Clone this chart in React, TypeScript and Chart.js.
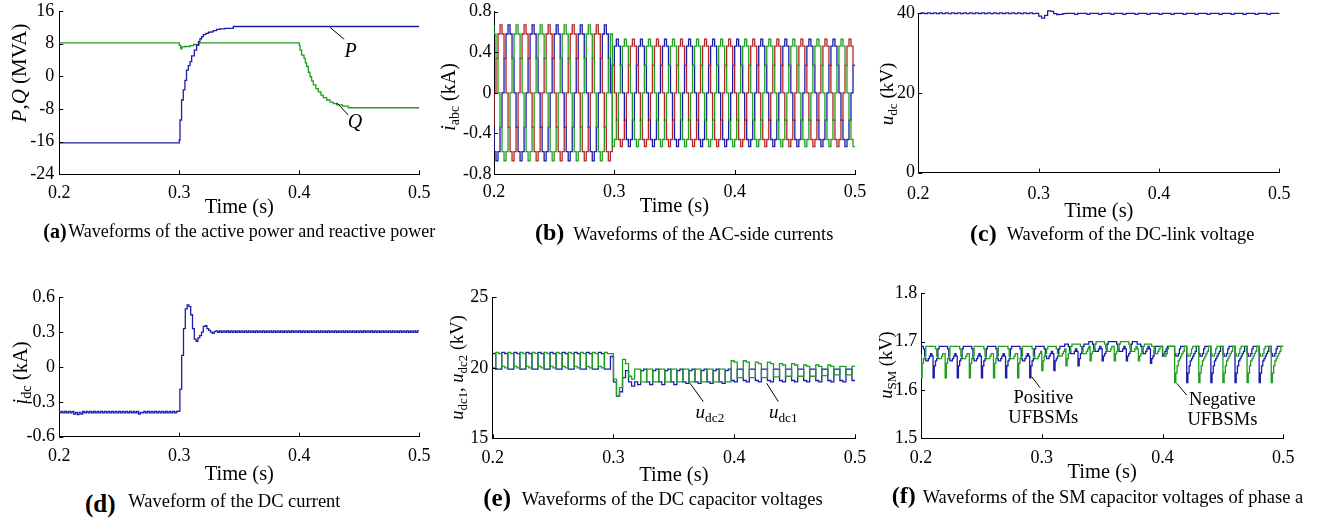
import React, { useEffect, useRef } from 'react';
import { Chart, registerables } from 'chart.js';

Chart.register(...registerables);

const SERIF = '"Liberation Serif", "Times New Roman", Times, serif';
const BLUE = '#1c1caa';
const GREEN = '#1f9f1f';
const RED = '#b42424';

// ---------- shared time axis ----------
const timeTicks = [0.2, 0.3, 0.4, 0.5];
const timeTickLabels = ['0.2', '0.3', '0.4', '0.5'];

// ---------- (a) active / reactive power ----------
const powerYTicks = [-24, -16, -8, 0, 8, 16];
const powerYLabels = ['-24', '-16', '-8', '0', '8', '16'];
const pTime = [0.2, 0.3, 0.3006, 0.3019, 0.3033, 0.3047, 0.306, 0.3075, 0.309, 0.3103, 0.3125, 0.3144, 0.316, 0.3172, 0.3186, 0.32, 0.3221, 0.3242, 0.3262, 0.3283, 0.331, 0.3339, 0.338, 0.345, 0.3533, 0.5];
const pValues = [-16.3, -16.3, -15.6, -10.7, -5.8, -3.3, -1.0, 1.5, 2.6, 3.6, 5.0, 6.4, 7.6, 8.5, 9.2, 9.7, 10.2, 10.5, 10.8, 10.9, 11.2, 11.5, 11.6, 11.75, 12.2, 12.2];
const qTime = [0.2, 0.3, 0.3012, 0.3022, 0.3045, 0.309, 0.312, 0.3165, 0.32, 0.4, 0.4006, 0.402, 0.4039, 0.405, 0.4061, 0.4075, 0.4089, 0.4103, 0.4117, 0.4138, 0.4158, 0.418, 0.42, 0.4228, 0.4256, 0.4283, 0.4311, 0.436, 0.4408, 0.443, 0.5];
const qValues = [8.2, 8.2, 7.6, 6.7, 7.2, 7.3, 7.5, 7.8, 8.2, 8.2, 7.6, 6.4, 5.2, 4.4, 3.3, 2.4, 1.0, -0.1, -1.1, -2.1, -3.0, -3.8, -4.6, -5.2, -5.8, -6.3, -6.7, -7.0, -7.3, -7.7, -7.7];

// ---------- (b) AC-side currents, sampled every 1/600 s ----------
const currentStep = 1 / 600;
const currentYTicks = [-0.8, -0.4, 0, 0.4, 0.8];
const currentYLabels = ['-0.8', '-0.4', '0', '0.4', '0.8'];
const iPhaseA = [
  0.67, 0.58, 0.34, 0, -0.34, -0.58, -0.67, -0.58, -0.34, 0, 0.34, 0.58,
  0.67, 0.58, 0.34, 0, -0.34, -0.58, -0.67, -0.58, -0.34, 0, 0.34, 0.58,
  0.67, 0.58, 0.34, 0, -0.34, -0.58, -0.67, -0.58, -0.34, 0, 0.34, 0.58,
  0.67, 0.58, 0.34, 0, -0.34, -0.58, -0.67, -0.58, -0.34, 0, 0.34, 0.58,
  0.67, 0.58, 0.34, 0, -0.34, -0.58, -0.67, -0.58, -0.34, 0, 0.34, 0.58,
  -0.53, -0.46, -0.27, 0, 0.27, 0.46, 0.53, 0.46, 0.27, 0, -0.27, -0.46,
  -0.53, -0.46, -0.27, 0, 0.27, 0.46, 0.53, 0.46, 0.27, 0, -0.27, -0.46,
  -0.53, -0.46, -0.27, 0, 0.27, 0.46, 0.53, 0.46, 0.27, 0, -0.27, -0.46,
  -0.53, -0.46, -0.27, 0, 0.27, 0.46, 0.53, 0.46, 0.27, 0, -0.27, -0.46,
  -0.53, -0.46, -0.27, 0, 0.27, 0.46, 0.53, 0.46, 0.27, 0, -0.27, -0.46,
  -0.53, -0.46, -0.27, 0, 0.27, 0.46, 0.53, 0.46, 0.27, 0, -0.27, -0.46,
  -0.53, -0.46, -0.27, 0, 0.27, 0.46, 0.53, 0.46, 0.27, 0, -0.27, -0.46,
  -0.53, -0.46, -0.27, 0, 0.27, 0.46, 0.53, 0.46, 0.27, 0, -0.27, -0.46,
  -0.53, -0.46, -0.27, 0, 0.27, 0.46, 0.53, 0.46, 0.27, 0, -0.27, -0.46,
  -0.53, -0.46, -0.27, 0, 0.27, 0.46, 0.53, 0.46, 0.27, 0, -0.27, -0.46,
  -0.53,
];
const iPhaseB = [
  -0.34, 0, 0.34, 0.58, 0.67, 0.58, 0.34, 0, -0.34, -0.58, -0.67, -0.58,
  -0.34, 0, 0.34, 0.58, 0.67, 0.58, 0.34, 0, -0.34, -0.58, -0.67, -0.58,
  -0.34, 0, 0.34, 0.58, 0.67, 0.58, 0.34, 0, -0.34, -0.58, -0.67, -0.58,
  -0.34, 0, 0.34, 0.58, 0.67, 0.58, 0.34, 0, -0.34, -0.58, -0.67, -0.58,
  -0.34, 0, 0.34, 0.58, 0.67, 0.58, 0.34, 0, -0.34, -0.58, -0.67, -0.58,
  0.27, 0, -0.27, -0.46, -0.53, -0.46, -0.27, 0, 0.27, 0.46, 0.53, 0.46,
  0.27, 0, -0.27, -0.46, -0.53, -0.46, -0.27, 0, 0.27, 0.46, 0.53, 0.46,
  0.27, 0, -0.27, -0.46, -0.53, -0.46, -0.27, 0, 0.27, 0.46, 0.53, 0.46,
  0.27, 0, -0.27, -0.46, -0.53, -0.46, -0.27, 0, 0.27, 0.46, 0.53, 0.46,
  0.27, 0, -0.27, -0.46, -0.53, -0.46, -0.27, 0, 0.27, 0.46, 0.53, 0.46,
  0.27, 0, -0.27, -0.46, -0.53, -0.46, -0.27, 0, 0.27, 0.46, 0.53, 0.46,
  0.27, 0, -0.27, -0.46, -0.53, -0.46, -0.27, 0, 0.27, 0.46, 0.53, 0.46,
  0.27, 0, -0.27, -0.46, -0.53, -0.46, -0.27, 0, 0.27, 0.46, 0.53, 0.46,
  0.27, 0, -0.27, -0.46, -0.53, -0.46, -0.27, 0, 0.27, 0.46, 0.53, 0.46,
  0.27, 0, -0.27, -0.46, -0.53, -0.46, -0.27, 0, 0.27, 0.46, 0.53, 0.46,
  0.27,
];
const iPhaseC = [
  -0.34, -0.58, -0.67, -0.58, -0.34, 0, 0.34, 0.58, 0.67, 0.58, 0.34, 0,
  -0.34, -0.58, -0.67, -0.58, -0.34, 0, 0.34, 0.58, 0.67, 0.58, 0.34, 0,
  -0.34, -0.58, -0.67, -0.58, -0.34, 0, 0.34, 0.58, 0.67, 0.58, 0.34, 0,
  -0.34, -0.58, -0.67, -0.58, -0.34, 0, 0.34, 0.58, 0.67, 0.58, 0.34, 0,
  -0.34, -0.58, -0.67, -0.58, -0.34, 0, 0.34, 0.58, 0.67, 0.58, 0.34, 0,
  0.27, 0.46, 0.53, 0.46, 0.27, 0, -0.27, -0.46, -0.53, -0.46, -0.27, 0,
  0.27, 0.46, 0.53, 0.46, 0.27, 0, -0.27, -0.46, -0.53, -0.46, -0.27, 0,
  0.27, 0.46, 0.53, 0.46, 0.27, 0, -0.27, -0.46, -0.53, -0.46, -0.27, 0,
  0.27, 0.46, 0.53, 0.46, 0.27, 0, -0.27, -0.46, -0.53, -0.46, -0.27, 0,
  0.27, 0.46, 0.53, 0.46, 0.27, 0, -0.27, -0.46, -0.53, -0.46, -0.27, 0,
  0.27, 0.46, 0.53, 0.46, 0.27, 0, -0.27, -0.46, -0.53, -0.46, -0.27, 0,
  0.27, 0.46, 0.53, 0.46, 0.27, 0, -0.27, -0.46, -0.53, -0.46, -0.27, 0,
  0.27, 0.46, 0.53, 0.46, 0.27, 0, -0.27, -0.46, -0.53, -0.46, -0.27, 0,
  0.27, 0.46, 0.53, 0.46, 0.27, 0, -0.27, -0.46, -0.53, -0.46, -0.27, 0,
  0.27, 0.46, 0.53, 0.46, 0.27, 0, -0.27, -0.46, -0.53, -0.46, -0.27, 0,
  0.27,
];

// ---------- (c) DC-link voltage, sampled every 2.5 ms ----------
const dcLinkStep = 0.0025;
const dcLinkYTicks = [0, 20, 40];
const dcLinkYLabels = ['0', '20', '40'];
const uDc = [
  40.1, 39.9, 40.1, 39.9, 40.1, 39.9, 40.1, 39.9, 40.1, 39.9,
  40.1, 39.9, 40.1, 39.9, 40.1, 39.9, 40.1, 39.9, 40.1, 39.9,
  40.1, 39.9, 40.1, 39.9, 40.1, 39.9, 40.1, 39.9, 40.1, 39.9,
  40.1, 39.9, 40.1, 39.9, 40.1, 39.9, 40.1, 39.9, 40.1, 39.9,
  40.0, 39.3, 38.8, 39.5, 40.6, 40.5, 39.9, 39.7, 39.75, 39.9,
  40, 40, 40, 39.75, 40, 40, 40, 39.75, 40, 40, 40, 39.75, 40, 40, 40, 39.75,
  40, 40, 40, 39.75, 40, 40, 40, 39.75, 40, 40, 40, 39.75, 40, 40, 40, 39.75,
  40, 40, 40, 39.75, 40, 40, 40, 39.75, 40, 40, 40, 39.75, 40, 40, 40, 39.75,
  40, 40, 40, 39.75, 40, 40, 40, 39.75, 40, 40, 40, 39.75, 40, 40, 40, 39.75,
  40, 40, 40, 39.75,
  40, 40, 40,
];

// ---------- (d) DC current, sampled every 1.5 ms ----------
const dcCurrentStep = 0.0015;
const dcCurrentYTicks = [-0.6, -0.3, 0, 0.3, 0.6];
const dcCurrentYLabels = ['-0.6', '-0.3', '0', '0.3', '0.6'];
const iDc = [
  -0.383, -0.395, -0.383, -0.395, -0.383, -0.395, -0.383, -0.395, -0.383, -0.405,
  -0.39, -0.41, -0.39, -0.405, -0.383, -0.395, -0.383, -0.395, -0.383, -0.395,
  -0.383, -0.395, -0.383, -0.395, -0.383, -0.395, -0.383, -0.395, -0.383, -0.395,
  -0.383, -0.395, -0.383, -0.395, -0.383, -0.395, -0.383, -0.395, -0.383, -0.395,
  -0.383, -0.395, -0.383, -0.395, -0.383, -0.405, -0.39, -0.395, -0.383, -0.395,
  -0.383, -0.395, -0.383, -0.395, -0.383, -0.395, -0.383, -0.395, -0.383, -0.395,
  -0.383, -0.395, -0.383, -0.395, -0.383, -0.395, -0.383,
  -0.38, -0.19, 0.1, 0.33, 0.5, 0.535, 0.52, 0.45, 0.33, 0.24,
  0.22, 0.25, 0.27, 0.3, 0.35, 0.355, 0.33, 0.315, 0.3, 0.29, 0.305,
  0.311, 0.299, 0.311, 0.299, 0.311, 0.299, 0.311, 0.299, 0.311, 0.299,
  0.311, 0.299, 0.311, 0.299, 0.311, 0.299, 0.311, 0.299, 0.311, 0.299,
  0.311, 0.299, 0.311, 0.299, 0.311, 0.299, 0.311, 0.299, 0.311, 0.299,
  0.311, 0.299, 0.311, 0.299, 0.311, 0.299, 0.311, 0.299, 0.311, 0.299,
  0.311, 0.299, 0.311, 0.299, 0.311, 0.299, 0.311, 0.299, 0.311, 0.299,
  0.311, 0.299, 0.311, 0.299, 0.311, 0.299, 0.311, 0.299, 0.311, 0.299,
  0.311, 0.299, 0.311, 0.299, 0.311, 0.299, 0.311, 0.299, 0.311, 0.299,
  0.311, 0.299, 0.311, 0.299, 0.311, 0.299, 0.311, 0.299, 0.311, 0.299,
  0.311, 0.299, 0.311, 0.299, 0.311, 0.299, 0.311, 0.299, 0.311, 0.299,
  0.311, 0.299, 0.311, 0.299, 0.311, 0.299, 0.311, 0.299, 0.311, 0.299,
  0.311, 0.299, 0.311, 0.299, 0.311, 0.299, 0.311, 0.299, 0.311, 0.299,
  0.311, 0.299, 0.311,
];

// ---------- (e) DC capacitor voltages, sampled every 2.5 ms ----------
const capStep = 0.0025;
const capYTicks = [15, 20, 25];
const capYLabels = ['15', '20', '25'];
const uDc2 = [
  20.1, 20.0, 21.1, 21.0, 20.1, 20.0, 21.1, 21.0, 20.1, 20.0, 21.1, 21.0,
  20.1, 20.0, 21.1, 21.0, 20.1, 20.0, 21.1, 21.0, 20.1, 20.0, 21.1, 21.0,
  20.1, 20.0, 21.1, 21.0, 20.1, 20.0, 21.1, 21.0, 20.1, 20.0, 21.1, 21.0,
  20.1, 20.0, 21.1, 21.0,
  21.0, 19.2, 18.0, 18.6, 20.6, 20.3, 19.4, 19.2,
  19.9, 19.9, 19.0, 19.0, 19.9, 19.9, 19.0, 19.0, 19.9, 19.9, 19.0, 19.0,
  19.9, 19.9, 19.0, 19.0, 19.9, 19.9, 19.0, 19.0, 19.9, 19.9, 19.0, 19.0,
  19.9, 19.9, 19.0, 19.0, 19.9, 19.9, 19.0, 19.0,
  20.5, 20.4, 19.3, 19.3, 20.5, 20.4, 19.3, 19.3, 20.4, 20.3, 19.3, 19.3,
  20.4, 20.3, 19.35, 19.35, 20.3, 20.2, 19.4, 19.4, 20.3, 20.2, 19.4, 19.4,
  20.2, 20.1, 19.4, 19.4, 20.2, 20.1, 19.45, 19.45, 20.2, 20.1, 19.5, 19.5,
  20.1, 20.1, 19.5, 19.5,
  20.1,
];
const uDc1 = [
  21.1, 21.0, 19.9, 19.9, 21.1, 21.0, 19.9, 19.9, 21.1, 21.0, 19.9, 19.9,
  21.1, 21.0, 19.9, 19.9, 21.1, 21.0, 19.9, 19.9, 21.1, 21.0, 19.9, 19.9,
  21.1, 21.0, 19.9, 19.9, 21.1, 21.0, 19.9, 19.9, 21.1, 21.0, 19.9, 19.9,
  21.1, 21.0, 19.9, 19.9,
  20.8, 19.0, 18.0, 18.3, 19.3, 19.8, 19.0, 18.7,
  19.0, 18.8, 19.8, 19.9, 19.0, 18.8, 19.8, 19.9, 19.0, 18.8, 19.8, 19.9,
  19.0, 18.8, 19.8, 19.9, 19.0, 18.9, 19.8, 19.9, 19.0, 18.9, 19.8, 19.9,
  19.0, 18.9, 19.8, 19.9, 19.0, 18.9, 19.8, 19.9,
  19.1, 19.0, 19.9, 19.9, 19.1, 19.0, 19.9, 19.9, 19.1, 19.0, 19.9, 19.9,
  19.1, 19.0, 19.9, 19.9, 19.1, 19.0, 19.9, 19.9, 19.1, 19.0, 19.9, 19.9,
  19.1, 19.0, 19.9, 19.9, 19.1, 19.0, 19.9, 19.9, 19.1, 19.0, 19.9, 19.9,
  19.1, 19.0, 19.9, 19.9,
  19.1,
];

// ---------- (f) SM capacitor voltages of phase a, sampled every 1 ms ----------
const smStep = 0.001;
const smYTicks = [1.5, 1.6, 1.7, 1.8];
const smYLabels = ['1.5', '1.6', '1.7', '1.8'];
const uSmNegative = [
  1.675, 1.625, 1.655, 1.665, 1.67, 1.69, 1.69, 1.69, 1.69, 1.69, 1.69, 1.69, 1.69, 1.685, 1.67, 1.665, 1.665, 1.665, 1.67, 1.675,
  1.675, 1.625, 1.655, 1.665, 1.67, 1.69, 1.69, 1.69, 1.69, 1.69, 1.69, 1.69, 1.69, 1.685, 1.67, 1.665, 1.665, 1.665, 1.67, 1.675,
  1.675, 1.625, 1.655, 1.665, 1.67, 1.69, 1.69, 1.69, 1.69, 1.69, 1.69, 1.69, 1.69, 1.685, 1.67, 1.665, 1.665, 1.665, 1.67, 1.675,
  1.675, 1.625, 1.655, 1.665, 1.67, 1.69, 1.69, 1.69, 1.69, 1.69, 1.69, 1.69, 1.69, 1.685, 1.67, 1.665, 1.665, 1.665, 1.67, 1.675,
  1.675, 1.625, 1.655, 1.665, 1.67, 1.69, 1.69, 1.69, 1.69, 1.69, 1.69, 1.69, 1.69, 1.685, 1.67, 1.665, 1.665, 1.665, 1.67, 1.675,
  1.68, 1.64, 1.66, 1.67, 1.675, 1.685, 1.69, 1.69, 1.69, 1.69, 1.69, 1.69, 1.69, 1.685, 1.675, 1.67, 1.67, 1.67, 1.675, 1.68,
  1.685, 1.65, 1.665, 1.675, 1.68, 1.69, 1.695, 1.695, 1.695, 1.695, 1.695, 1.695, 1.695, 1.69, 1.68, 1.675, 1.675, 1.675, 1.68, 1.685,
  1.69, 1.66, 1.675, 1.68, 1.685, 1.695, 1.7, 1.7, 1.7, 1.7, 1.7, 1.7, 1.7, 1.695, 1.685, 1.68, 1.68, 1.68, 1.685, 1.69,
  1.69, 1.66, 1.675, 1.68, 1.685, 1.695, 1.7, 1.7, 1.7, 1.7, 1.7, 1.7, 1.7, 1.695, 1.685, 1.68, 1.68, 1.68, 1.685, 1.69,
  1.685, 1.66, 1.67, 1.675, 1.68, 1.69, 1.695, 1.695, 1.695, 1.695, 1.695, 1.695, 1.69, 1.69, 1.68, 1.675, 1.675, 1.68, 1.685, 1.69,
  1.69, 1.675, 1.67, 1.67, 1.675, 1.685, 1.69, 1.69, 1.69, 1.69, 1.69, 1.615, 1.635, 1.65, 1.66, 1.665, 1.67, 1.675, 1.68, 1.69,
  1.69, 1.675, 1.67, 1.67, 1.675, 1.685, 1.69, 1.69, 1.69, 1.69, 1.69, 1.615, 1.635, 1.65, 1.66, 1.665, 1.67, 1.675, 1.68, 1.69,
  1.69, 1.675, 1.67, 1.67, 1.675, 1.685, 1.69, 1.69, 1.69, 1.69, 1.69, 1.615, 1.635, 1.65, 1.66, 1.665, 1.67, 1.675, 1.68, 1.69,
  1.69, 1.675, 1.67, 1.67, 1.675, 1.685, 1.69, 1.69, 1.69, 1.69, 1.69, 1.615, 1.635, 1.65, 1.66, 1.665, 1.67, 1.675, 1.68, 1.69,
  1.69, 1.675, 1.67, 1.67, 1.675, 1.685, 1.69, 1.69, 1.69, 1.69, 1.69, 1.615, 1.635, 1.65, 1.66, 1.665, 1.67, 1.675, 1.68, 1.69,
  1.69,
];
const uSmPositive = [
  1.69, 1.69, 1.69, 1.685, 1.665, 1.66, 1.66, 1.665, 1.67, 1.675, 1.67, 1.625, 1.65, 1.66, 1.665, 1.685, 1.69, 1.69, 1.69, 1.69,
  1.69, 1.69, 1.69, 1.685, 1.665, 1.66, 1.66, 1.665, 1.67, 1.675, 1.67, 1.625, 1.65, 1.66, 1.665, 1.685, 1.69, 1.69, 1.69, 1.69,
  1.69, 1.69, 1.69, 1.685, 1.665, 1.66, 1.66, 1.665, 1.67, 1.675, 1.67, 1.625, 1.65, 1.66, 1.665, 1.685, 1.69, 1.69, 1.69, 1.69,
  1.69, 1.69, 1.69, 1.685, 1.665, 1.66, 1.66, 1.665, 1.67, 1.675, 1.67, 1.625, 1.65, 1.66, 1.665, 1.685, 1.69, 1.69, 1.69, 1.69,
  1.69, 1.69, 1.69, 1.685, 1.665, 1.66, 1.66, 1.665, 1.67, 1.675, 1.67, 1.625, 1.65, 1.66, 1.665, 1.685, 1.69, 1.69, 1.69, 1.69,
  1.69, 1.69, 1.69, 1.685, 1.67, 1.665, 1.665, 1.67, 1.675, 1.68, 1.675, 1.64, 1.66, 1.665, 1.67, 1.685, 1.69, 1.69, 1.69, 1.69,
  1.695, 1.695, 1.695, 1.69, 1.68, 1.675, 1.675, 1.675, 1.68, 1.685, 1.68, 1.65, 1.665, 1.675, 1.68, 1.69, 1.695, 1.695, 1.695, 1.695,
  1.7, 1.7, 1.7, 1.695, 1.685, 1.68, 1.68, 1.68, 1.685, 1.69, 1.685, 1.66, 1.67, 1.675, 1.68, 1.695, 1.7, 1.7, 1.7, 1.7,
  1.7, 1.7, 1.7, 1.695, 1.685, 1.68, 1.68, 1.68, 1.685, 1.69, 1.685, 1.66, 1.67, 1.675, 1.68, 1.695, 1.7, 1.7, 1.7, 1.7,
  1.695, 1.695, 1.695, 1.69, 1.68, 1.675, 1.675, 1.68, 1.685, 1.69, 1.685, 1.655, 1.665, 1.67, 1.68, 1.69, 1.69, 1.69, 1.69, 1.69,
  1.69, 1.67, 1.675, 1.68, 1.685, 1.69, 1.69, 1.69, 1.69, 1.69, 1.69, 1.675, 1.67, 1.67, 1.675, 1.685, 1.69, 1.69, 1.69, 1.69,
  1.69, 1.615, 1.635, 1.65, 1.66, 1.665, 1.67, 1.675, 1.68, 1.69, 1.69, 1.675, 1.67, 1.67, 1.675, 1.685, 1.69, 1.69, 1.69, 1.69,
  1.69, 1.615, 1.635, 1.65, 1.66, 1.665, 1.67, 1.675, 1.68, 1.69, 1.69, 1.675, 1.67, 1.67, 1.675, 1.685, 1.69, 1.69, 1.69, 1.69,
  1.69, 1.615, 1.635, 1.65, 1.66, 1.665, 1.67, 1.675, 1.68, 1.69, 1.69, 1.675, 1.67, 1.67, 1.675, 1.685, 1.69, 1.69, 1.69, 1.69,
  1.69, 1.615, 1.635, 1.65, 1.66, 1.665, 1.67, 1.675, 1.68, 1.69, 1.69, 1.675, 1.67, 1.67, 1.675, 1.685, 1.69, 1.69, 1.69, 1.69,
  1.69,
];

// ---------- helpers ----------
type Pt = { x: number; y: number };
const uniform = (vals: number[], step: number): Pt[] => vals.map((v, i) => ({ x: 0.2 + i * step, y: v }));
const paired = (ts: number[], vs: number[]): Pt[] => ts.map((t, i) => ({ x: t, y: vs[i] }));

type Run = { t: string; it?: boolean; sub?: boolean };
interface Series { points: Pt[]; color: string; width?: number; clip?: number }
interface Note { runs: Run[]; x: number; y: number; size: number }
interface Leader { x1: number; y1: number; x2: number; y2: number }
interface PanelCfg {
  id: string;
  box: { l: number; t: number; w: number; h: number };
  area: { l: number; t: number; r: number; b: number };
  yMin: number; yMax: number; yTicks: number[]; yLabels: string[];
  yTitle: Run[]; yTitleX: number; yTitleY: number; yTitleSize: number;
  xTitleY: number; xTickPad: number; yTickPad: number;
  series: Series[]; notes: Note[]; leaders: Leader[];
}

function drawRich(ctx: CanvasRenderingContext2D, runs: Run[], x: number, y: number, size: number, rotated: boolean) {
  ctx.save();
  ctx.translate(x, y);
  if (rotated) ctx.rotate(-Math.PI / 2);
  ctx.fillStyle = '#000';
  ctx.textBaseline = 'alphabetic';
  ctx.textAlign = 'left';
  const fontOf = (r: Run) => `${r.it ? 'italic ' : ''}${r.sub ? size * 0.7 : size}px ${SERIF}`;
  let total = 0;
  const widths = runs.map((r) => {
    ctx.font = fontOf(r);
    const w = ctx.measureText(r.t).width;
    total += w;
    return w;
  });
  let cx = -total / 2;
  runs.forEach((r, i) => {
    ctx.font = fontOf(r);
    ctx.fillText(r.t, cx, r.sub ? size * 0.22 : 0);
    cx += widths[i];
  });
  ctx.restore();
}

function makeOverlay(cfg: PanelCfg) {
  return {
    id: 'overlay_' + cfg.id,
    afterDraw(chart: any) {
      const ctx: CanvasRenderingContext2D = chart.ctx;
      const xs = chart.scales.x;
      const ys = chart.scales.y;
      const ca = chart.chartArea;
      ctx.save();
      ctx.strokeStyle = '#000';
      ctx.lineWidth = 1;
      ctx.beginPath();
      timeTicks.forEach((v) => {
        const px = Math.round(xs.getPixelForValue(v)) + 0.5;
        ctx.moveTo(px, ca.bottom);
        ctx.lineTo(px, ca.bottom - 4);
      });
      cfg.yTicks.forEach((v) => {
        const py = Math.round(ys.getPixelForValue(v)) + 0.5;
        ctx.moveTo(ca.left, py);
        ctx.lineTo(ca.left + 4, py);
      });
      ctx.stroke();
      ctx.beginPath();
      cfg.leaders.forEach((l) => {
        ctx.moveTo(xs.getPixelForValue(l.x1), ys.getPixelForValue(l.y1));
        ctx.lineTo(xs.getPixelForValue(l.x2), ys.getPixelForValue(l.y2));
      });
      ctx.stroke();
      ctx.restore();
      cfg.notes.forEach((n) => drawRich(ctx, n.runs, xs.getPixelForValue(n.x), ys.getPixelForValue(n.y), n.size, false));
      drawRich(ctx, cfg.yTitle, cfg.yTitleX - cfg.box.l, cfg.yTitleY - cfg.box.t, cfg.yTitleSize, true);
      drawRich(ctx, [{ t: 'Time (s)' }], (ca.left + ca.right) / 2, cfg.xTitleY - cfg.box.t, 20.5, false);
    },
  };
}

function buildConfig(cfg: PanelCfg): any {
  const { box, area } = cfg;
  const tickFont = { family: SERIF, size: 18, lineHeight: 1.2 };
  return {
    type: 'line',
    data: {
      datasets: cfg.series.map((s) => ({
        data: s.points,
        borderColor: s.color,
        borderWidth: s.width ?? 1.3,
        pointRadius: 0,
        stepped: 'after',
        fill: false,
        tension: 0,
        ...(s.clip !== undefined ? { clip: s.clip } : {}),
      })),
    },
    options: {
      animation: false,
      responsive: false,
      devicePixelRatio: 1,
      events: [],
      layout: { padding: { left: 0, top: area.t - box.t, right: box.l + box.w - area.r, bottom: 0 } },
      plugins: { legend: { display: false }, tooltip: { enabled: false }, title: { display: false } },
      scales: {
        x: {
          type: 'linear',
          min: 0.2,
          max: 0.5,
          grid: { display: false, drawTicks: false },
          border: { display: true, color: '#000', width: 1 },
          ticks: {
            font: tickFont,
            color: '#000',
            padding: cfg.xTickPad,
            autoSkip: false,
            maxRotation: 0,
            minRotation: 0,
            callback: (_v: any, i: number) => timeTickLabels[i],
          },
          afterBuildTicks: (s: any) => {
            s.ticks = timeTicks.map((v) => ({ value: v }));
          },
          afterFit: (s: any) => {
            s.height = box.t + box.h - area.b;
            s.paddingLeft = 0;
            s.paddingRight = 0;
          },
        },
        y: {
          type: 'linear',
          min: cfg.yMin,
          max: cfg.yMax,
          grid: { display: false, drawTicks: false },
          border: { display: true, color: '#000', width: 1 },
          ticks: {
            font: tickFont,
            color: '#000',
            padding: cfg.yTickPad,
            autoSkip: false,
            callback: (_v: any, i: number) => cfg.yLabels[i],
          },
          afterBuildTicks: (s: any) => {
            s.ticks = cfg.yTicks.map((v) => ({ value: v }));
          },
          afterFit: (s: any) => {
            s.width = area.l - box.l;
            s.paddingTop = 0;
            s.paddingBottom = 0;
          },
        },
      },
    },
    plugins: [makeOverlay(cfg)],
  };
}

const panels: PanelCfg[] = [
  {
    id: 'a',
    box: { l: 0, t: 0, w: 440, h: 225 },
    area: { l: 59.3, t: 11, r: 419.3, b: 174.3 },
    yMin: -24, yMax: 16, yTicks: powerYTicks, yLabels: powerYLabels,
    yTitle: [{ t: 'P', it: true }, { t: ',' }, { t: 'Q', it: true }, { t: ' (MVA)' }],
    yTitleX: 25.5, yTitleY: 73, yTitleSize: 21,
    xTitleY: 213.3, xTickPad: 7.7, yTickPad: 5,
    series: [
      { points: paired(pTime, pValues), color: BLUE },
      { points: paired(qTime, qValues), color: GREEN },
    ],
    notes: [
      { runs: [{ t: 'P', it: true }], x: 0.4428, y: 4.81, size: 20 },
      { runs: [{ t: 'Q', it: true }], x: 0.4464, y: -12.74, size: 20 },
    ],
    leaders: [
      { x1: 0.4256, y1: 12.0, x2: 0.4374, y2: 9.07 },
      { x1: 0.4312, y1: -6.46, x2: 0.4408, y2: -9.47 },
    ],
  },
  {
    id: 'b',
    box: { l: 430, t: 0, w: 440, h: 225 },
    area: { l: 494, t: 11.7, r: 855, b: 174 },
    yMin: -0.8, yMax: 0.8, yTicks: currentYTicks, yLabels: currentYLabels,
    yTitle: [{ t: 'i', it: true }, { t: 'abc', sub: true }, { t: ' (kA)' }],
    yTitleX: 455, yTitleY: 97, yTitleSize: 20,
    xTitleY: 212.3, xTickPad: 7.2, yTickPad: 2.5,
    series: [
      { points: uniform(iPhaseA, currentStep), color: GREEN },
      { points: uniform(iPhaseB, currentStep), color: RED },
      { points: uniform(iPhaseC, currentStep), color: BLUE },
    ],
    notes: [],
    leaders: [],
  },
  {
    id: 'c',
    box: { l: 860, t: 0, w: 459, h: 225 },
    area: { l: 918.3, t: 13.3, r: 1279.3, b: 172.7 },
    yMin: 0, yMax: 40, yTicks: dcLinkYTicks, yLabels: dcLinkYLabels,
    yTitle: [{ t: 'u', it: true }, { t: 'dc', sub: true }, { t: ' (kV)' }],
    yTitleX: 893, yTitleY: 94, yTitleSize: 19,
    xTitleY: 216.7, xTickPad: 11, yTickPad: 3.3,
    series: [{ points: uniform(uDc, dcLinkStep), color: BLUE, clip: 6 }],
    notes: [],
    leaders: [],
  },
  {
    id: 'd',
    box: { l: 0, t: 265, w: 440, h: 225 },
    area: { l: 59.3, t: 297.3, r: 419.3, b: 436.7 },
    yMin: -0.6, yMax: 0.6, yTicks: dcCurrentYTicks, yLabels: dcCurrentYLabels,
    yTitle: [{ t: 'i', it: true }, { t: 'dc', sub: true }, { t: ' (kA)' }],
    yTitleX: 26.7, yTitleY: 373, yTitleSize: 20.5,
    xTitleY: 480, xTickPad: 8.5, yTickPad: 4.3,
    series: [{ points: uniform(iDc, dcCurrentStep), color: BLUE }],
    notes: [],
    leaders: [],
  },
  {
    id: 'e',
    box: { l: 430, t: 265, w: 440, h: 225 },
    area: { l: 492.7, t: 297.3, r: 855, b: 438.3 },
    yMin: 15, yMax: 25, yTicks: capYTicks, yLabels: capYLabels,
    yTitle: [{ t: 'u', it: true }, { t: 'dc1', sub: true }, { t: ', ' }, { t: 'u', it: true }, { t: 'dc2', sub: true }, { t: ' (kV)' }],
    yTitleX: 463, yTitleY: 367.5, yTitleSize: 18.5,
    xTitleY: 480.7, xTickPad: 8.7, yTickPad: 4.4,
    series: [
      { points: uniform(uDc2, capStep), color: GREEN },
      { points: uniform(uDc1, capStep), color: BLUE },
    ],
    notes: [
      { runs: [{ t: 'u', it: true }, { t: 'dc2', sub: true }], x: 0.3799, y: 16.42, size: 19 },
      { runs: [{ t: 'u', it: true }, { t: 'dc1', sub: true }], x: 0.4406, y: 16.42, size: 19 },
    ],
    leaders: [
      { x1: 0.3634, y1: 18.9, x2: 0.3744, y2: 17.6 },
      { x1: 0.4269, y1: 18.9, x2: 0.4365, y2: 17.6 },
    ],
  },
  {
    id: 'f',
    box: { l: 860, t: 265, w: 459, h: 225 },
    area: { l: 921, t: 293.3, r: 1283.3, b: 438.3 },
    yMin: 1.5, yMax: 1.8, yTicks: smYTicks, yLabels: smYLabels,
    yTitle: [{ t: 'u', it: true }, { t: 'SM', sub: true }, { t: ' (kV)' }],
    yTitleX: 891.7, yTitleY: 365, yTitleSize: 18.5,
    xTitleY: 478.3, xTickPad: 8.7, yTickPad: 3.7,
    series: [
      { points: uniform(uSmNegative, smStep), color: GREEN },
      { points: uniform(uSmPositive, smStep), color: BLUE },
    ],
    notes: [
      { runs: [{ t: 'Positive' }], x: 0.3013, y: 1.5724, size: 18.5 },
      { runs: [{ t: 'UFBSMs' }], x: 0.3013, y: 1.531, size: 18.5 },
      { runs: [{ t: 'Negative' }], x: 0.4496, y: 1.5689, size: 18.5 },
      { runs: [{ t: 'UFBSMs' }], x: 0.4496, y: 1.5275, size: 18.5 },
    ],
    leaders: [
      { x1: 0.2917, y1: 1.6274, x2: 0.2986, y2: 1.6047 },
      { x1: 0.4117, y1: 1.6138, x2: 0.42, y2: 1.5896 },
    ],
  },
];

interface CaptionCfg { label: string; text: string; labelLeft: number; textLeft: number; labelBase: number; textBase: number; labelSize: number; textSize: number }
const captions: CaptionCfg[] = [
  { label: '(a)', text: 'Waveforms of the active power and reactive power', labelLeft: 43.3, textLeft: 68.3, labelBase: 237.5, textBase: 237.5, labelSize: 20, textSize: 18 },
  { label: '(b)', text: 'Waveforms of the AC-side currents', labelLeft: 535, textLeft: 573.3, labelBase: 240.5, textBase: 240.5, labelSize: 24, textSize: 18.4 },
  { label: '(c)', text: 'Waveform of the DC-link voltage', labelLeft: 970, textLeft: 1006.7, labelBase: 240.7, textBase: 240.7, labelSize: 24, textSize: 18.4 },
  { label: '(d)', text: 'Waveform of the DC current', labelLeft: 85, textLeft: 128.3, labelBase: 511.5, textBase: 507.3, labelSize: 25, textSize: 18.5 },
  { label: '(e)', text: 'Waveforms of the DC capacitor voltages', labelLeft: 483.3, textLeft: 521.7, labelBase: 505.7, textBase: 505.7, labelSize: 25, textSize: 18.5 },
  { label: '(f)', text: 'Waveforms of the SM capacitor voltages of phase a', labelLeft: 891.7, textLeft: 922.7, labelBase: 503.3, textBase: 503.3, labelSize: 24, textSize: 18.45 },
];

function Panel({ cfg }: { cfg: PanelCfg }) {
  const ref = useRef<HTMLCanvasElement | null>(null);
  useEffect(() => {
    if (!ref.current) return;
    const chart = new Chart(ref.current, buildConfig(cfg));
    return () => chart.destroy();
  }, [cfg]);
  return (
    <canvas
      ref={ref}
      width={cfg.box.w}
      height={cfg.box.h}
      style={{ position: 'absolute', left: cfg.box.l, top: cfg.box.t, width: cfg.box.w, height: cfg.box.h }}
    />
  );
}

function Caption({ c }: { c: CaptionCfg }) {
  const base = (s: number) => s * 0.8375;
  return (
    <>
      <div
        style={{
          position: 'absolute', left: c.labelLeft, top: c.labelBase - base(c.labelSize),
          fontFamily: SERIF, fontWeight: 'bold', fontSize: c.labelSize, lineHeight: 1, whiteSpace: 'nowrap', color: '#000',
        }}
      >
        {c.label}
      </div>
      <div
        style={{
          position: 'absolute', left: c.textLeft, top: c.textBase - base(c.textSize),
          fontFamily: SERIF, fontSize: c.textSize, lineHeight: 1, whiteSpace: 'nowrap', color: '#000',
        }}
      >
        {c.text}
      </div>
    </>
  );
}

export default function App() {
  return (
    <div style={{ position: 'absolute', left: 0, top: 0, width: 1319, height: 519, background: '#fff', overflow: 'hidden' }}>
      {panels.map((p) => (
        <Panel key={p.id} cfg={p} />
      ))}
      {captions.map((c) => (
        <Caption key={c.label} c={c} />
      ))}
    </div>
  );
}
